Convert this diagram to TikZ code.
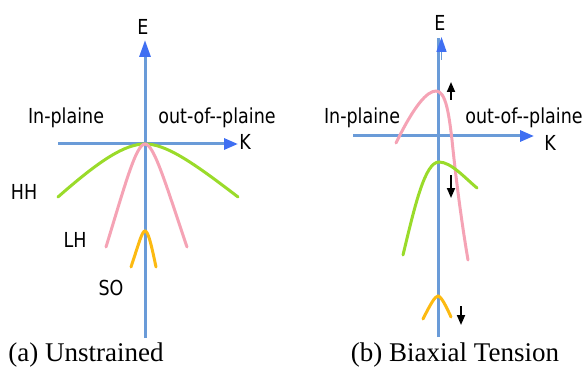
\documentclass[tikz,border=0pt]{standalone}
\usepackage{fontspec}
\setmainfont{Liberation Serif}
\newfontfamily\lblfont{DejaVu Sans}
\usetikzlibrary{arrows.meta}
\definecolor{axisblue}{HTML}{6A9BD8}
\definecolor{headblue}{HTML}{3F6FF2}
\definecolor{hhgreen}{HTML}{9ADB2A}
\definecolor{lhpink}{HTML}{F5A3B5}
\definecolor{soorange}{HTML}{FCBA12}
\newcommand{\tall}[1]{\scalebox{1}[1.18]{#1}}
\tikzset{
  axis/.style={draw=axisblue, line width=3pt},
  axisarrow/.style={axis, -{Triangle[length=17pt,width=11pt,color=headblue]}},
  karrow/.style={axis, -{Triangle[length=14pt,width=11pt,color=headblue]}},
  band/.style={line width=3pt, line cap=round},
  hh/.style={band, draw=hhgreen},
  lh/.style={band, draw=lhpink},
  so/.style={band, draw=soorange},
  shiftarrow/.style={draw=black, line width=1.8pt, -{Triangle[length=10pt,width=8pt]}},
  lbl/.style={font=\lblfont\fontsize{17.5}{17.5}\selectfont, inner sep=0pt},
  captext/.style={font=\fontsize{27}{27}\selectfont, inner sep=0pt, anchor=base}
}
\begin{document}
\begin{tikzpicture}[x=1pt,y=-1pt]
\useasboundingbox (0,0) rectangle (585,366);
% ---------- (a) Unstrained ----------
\coordinate (aEb) at (145,338);
\coordinate (aEt) at (145,40);
\coordinate (aKl) at (58,144);
\coordinate (aKr) at (238,144);
\draw[axisarrow] (aEb) -- (aEt);
\draw[karrow] (aKl) -- (aKr);
\node[lbl] (aE) at (143,27) {\tall{E}};
\node[lbl] (aK) at (245,142) {\tall{K}};
\node[lbl] (aIn) at (66,118) {\tall{In-plaine}};
\node[lbl] (aOut) at (217,118) {\tall{out-of--plaine}};
\draw[hh] (58,197) .. controls (100,160) and (125,144) .. (145,144)
          .. controls (165,144) and (190,160) .. (238,197);
\draw[lh] (106,247) .. controls (125,185) and (136,144) .. (145,144)
          .. controls (154,144) and (166,185) .. (187,247);
\draw[so] (131,267) .. controls (139,243) and (142,231) .. (145,231)
          .. controls (148,231) and (151,243) .. (156,267);
\node[lbl] (aHH) at (24,192) {\tall{HH}};
\node[lbl] (aLH) at (75,240) {\tall{LH}};
\node[lbl] (aSO) at (111,288) {\tall{SO}};
\node[captext] (acap) at (86,361) {(a) Unstrained};
% ---------- (b) Biaxial Tension ----------
\coordinate (bEb) at (438,337);
\coordinate (bEt) at (438,38);
\coordinate (bAs) at (441.5,60);
\coordinate (bAt) at (441.5,37);
\coordinate (bKl) at (353,136);
\coordinate (bKr) at (534,136);
\draw[axis] (bEb) -- (bEt);
\draw[draw=axisblue, line width=1.5pt, -{Triangle[length=15pt,width=10pt,color=headblue]}] (bAs) -- (bAt);
\draw[karrow] (bKl) -- (bKr);
\node[lbl] (bE) at (440,23) {\tall{E}};
\node[lbl] (bK) at (550,143) {\tall{K}};
\node[lbl] (bIn) at (362,118) {\tall{In-plaine}};
\node[lbl] (bOut) at (524,118) {\tall{out-of--plaine}};
\draw[lh] (396,143) .. controls (414,106) and (427,91) .. (436,91)
          .. controls (446,91) and (449,115) .. (452,140)
          .. controls (456,180) and (462,225) .. (468,260);
\draw[hh] (403,255) .. controls (415,205) and (425,162) .. (439,162)
          .. controls (451,162) and (465,178) .. (477,188);
\draw[so] (423,319) .. controls (430,305) and (435,296) .. (438,296)
          .. controls (441,296) and (446,306) .. (451,317);
\coordinate (u1s) at (451,100);
\coordinate (u1t) at (451,82);
\coordinate (d1s) at (451,175);
\coordinate (d1t) at (451,198);
\coordinate (d2s) at (461,306);
\coordinate (d2t) at (461,325);
\draw[shiftarrow] (u1s) -- (u1t);
\draw[shiftarrow] (d1s) -- (d1t);
\draw[shiftarrow] (d2s) -- (d2t);
\node[captext] (bcap) at (455,361) {(b) Biaxial Tension};
\end{tikzpicture}
\end{document}
